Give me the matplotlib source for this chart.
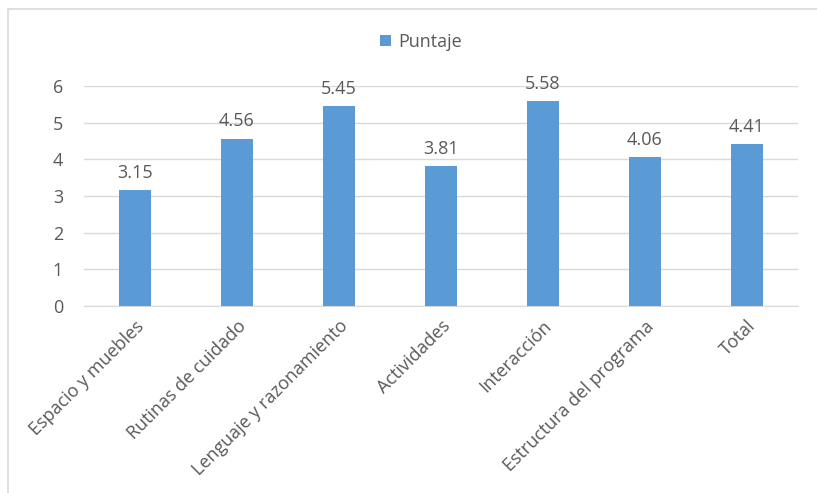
import matplotlib.pyplot as plt
from matplotlib.patches import Rectangle

categorias = ['Espacio y muebles', 'Rutinas de cuidado', 'Lenguaje y razonamiento',
              'Actividades', 'Interacción', 'Estructura del programa', 'Total']
puntaje = [3.15, 4.56, 5.45, 3.81, 5.58, 4.06, 4.41]
yticks = [0, 1, 2, 3, 4, 5, 6]

plt.rcParams['font.family'] = ['Open Sans', 'DejaVu Sans']
color_barra = '#5B9BD5'
color_texto = '#595959'
fs = 13

fig = plt.figure(figsize=(8.17, 4.93), dpi=100)
ax = fig.add_axes([0.1028, 0.3793, 0.8736, 0.4463])

# marco del grafico (gris claro)
fig.patches.append(Rectangle((8 / 817, -0.1), 1.1, 1 - 9 / 493 + 0.1, transform=fig.transFigure,
                             fill=False, edgecolor='#D9D9D9', linewidth=1.2))

x = list(range(len(categorias)))
ax.bar(x, puntaje, width=0.31, color=color_barra, label='Puntaje', zorder=3)

for xi, v in zip(x, puntaje):
    ax.annotate(f'{v:.2f}', (xi, v), xytext=(0, 6), textcoords='offset points',
                ha='center', va='bottom', fontsize=fs, color=color_texto)

ax.set_xlim(-0.5, len(categorias) - 0.5)
ax.set_ylim(0, 6)
ax.set_yticks(yticks)
ax.grid(axis='y', color='#D9D9D9', linewidth=1, zorder=0)
for s in ['top', 'right', 'left']:
    ax.spines[s].set_visible(False)
ax.spines['bottom'].set_color('#D9D9D9')

ax.set_xticks(x)
ax.set_xticklabels(categorias, rotation=45, ha='right', va='top', rotation_mode='anchor')
ax.tick_params(axis='x', length=0, colors=color_texto, labelsize=fs, pad=8)
ax.tick_params(axis='y', length=0, colors=color_texto, labelsize=fs, pad=15)

ax.legend(loc='center', bbox_to_anchor=(421 / 817, (493 - 42) / 493), bbox_transform=fig.transFigure,
          frameon=False, fontsize=fs, labelcolor=color_texto, handlelength=0.6, handleheight=0.6,
          handletextpad=0.4)

fig.savefig('out.png', dpi=100)
